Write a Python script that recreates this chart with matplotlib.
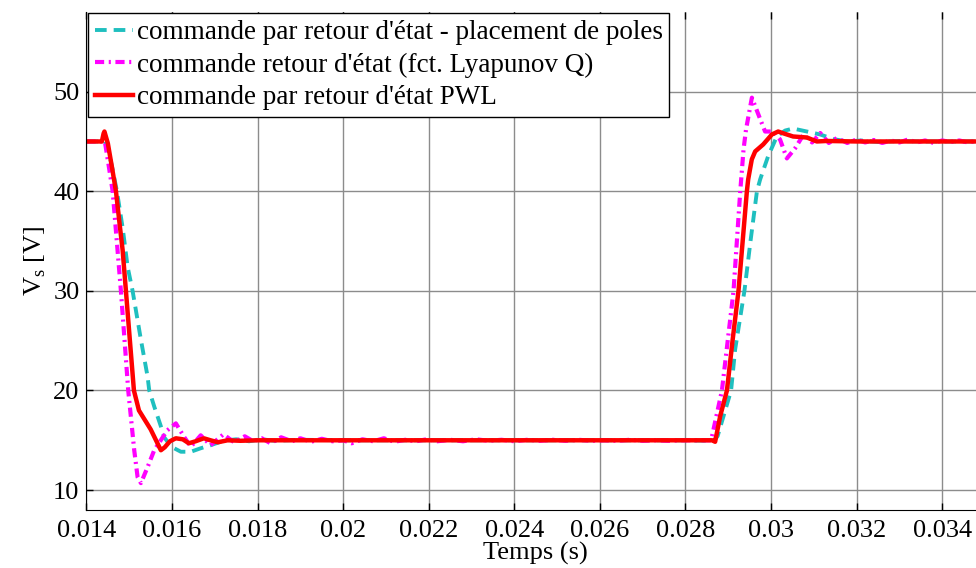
import matplotlib
matplotlib.use("Agg")
import matplotlib.pyplot as plt

plt.rcParams['font.family'] = ['Liberation Serif', 'DejaVu Serif']
plt.rcParams['mathtext.fontset'] = 'custom'
plt.rcParams['mathtext.rm'] = 'Liberation Serif'
plt.rcParams['font.size'] = 19

# --- commande par retour d'etat, placement de poles (cyan) ---
t_pp = [0.0140, 0.01443, 0.01452, 0.01462, 0.014712, 0.01485, 0.014962, 0.015078,
        0.015272, 0.015428, 0.015467, 0.015583, 0.015739, 0.015817, 0.015895,
        0.01605, 0.016206, 0.01644, 0.01667, 0.0169, 0.0171, 0.01729, 0.0175,
        0.0178, 0.0181, 0.0184, 0.0190, 0.0200, 0.0220, 0.0240, 0.0260, 0.0280,
        0.02865, 0.02875, 0.02886, 0.029066, 0.02916, 0.029378, 0.02952, 0.02967,
        0.029746, 0.02993, 0.030135, 0.03033, 0.030516, 0.030836, 0.03115,
        0.03145, 0.03177, 0.0321, 0.0325, 0.0330, 0.0335, 0.0340, 0.0350]
v_pp = [45.0, 45.0, 44.0, 42.0, 40.0, 36.2, 32.4, 30.0,
        25.1, 21.4, 20.0, 18.4, 16.4, 15.3, 14.85,
        14.2, 13.85, 13.85, 14.2, 14.5, 14.8, 15.0, 15.1,
        14.9, 15.1, 14.95, 15.05, 15.0, 15.0, 15.0, 15.0, 15.0,
        14.95, 15.4, 17.0, 20.0, 24.1, 30.0, 35.0, 40.0,
        41.2, 43.5, 45.5, 46.1, 46.3, 46.0, 45.7,
        45.25, 45.0, 45.1, 44.95, 45.05, 45.0, 45.0, 45.0]

# --- commande retour d'etat, fct. Lyapunov Q (magenta) ---
t_lq = [0.0140, 0.01443, 0.014533, 0.014612, 0.014805, 0.014976, 0.015116,
        0.015195, 0.015272, 0.015428, 0.015583, 0.01589, 0.016089, 0.01628,
        0.01644, 0.01667, 0.0169, 0.0172, 0.01745, 0.01770, 0.01790, 0.01810,
        0.01830, 0.01855, 0.01880, 0.01900, 0.01925, 0.01950, 0.01975, 0.02000,
        0.02020, 0.02045, 0.02070, 0.02095, 0.02120, 0.02145, 0.02170, 0.02195,
        0.02220, 0.02250, 0.02280, 0.02310, 0.02340, 0.02370, 0.02400, 0.02430,
        0.02460, 0.02490, 0.02520, 0.02550, 0.02580, 0.02610, 0.02640, 0.02670,
        0.02700, 0.02730, 0.02760, 0.02790, 0.02820, 0.02860, 0.028852, 0.029123,
        0.02928, 0.029357, 0.029415, 0.029552, 0.02975, 0.02986, 0.03005,
        0.03021, 0.03037, 0.03056, 0.03076, 0.03096, 0.03115, 0.03135, 0.03154,
        0.03178, 0.0320, 0.0322, 0.0324, 0.0326, 0.0328, 0.0330, 0.0332, 0.0334,
        0.0336, 0.0338, 0.0340, 0.0342, 0.0344, 0.0346, 0.0348, 0.0350]
v_lq = [45.0, 45.0, 42.2, 40.0, 30.0, 20.0, 14.0,
        11.3, 10.7, 12.3, 14.0, 16.0, 16.7, 15.35,
        14.35, 15.5, 14.5, 15.6, 14.8, 15.4, 14.9, 15.2,
        14.7, 15.3, 14.9, 15.2, 14.85, 15.15, 14.9, 15.0,
        14.7, 15.1, 14.9, 15.2, 14.85, 15.05, 14.9, 15.1,
        14.9, 15.05, 14.9, 15.1, 14.95, 15.05, 14.9, 15.05,
        14.95, 15.05, 14.95, 15.05, 14.95, 15.0, 14.95, 15.05,
        14.95, 15.0, 14.95, 15.0, 15.0, 15.0, 20.0, 30.0,
        40.0, 44.2, 46.2, 49.4, 47.2, 46.0, 46.0,
        45.2, 43.3, 44.3, 45.7, 44.9, 45.85, 44.85, 45.35,
        44.85, 45.2, 44.9, 45.15, 44.85, 45.1, 44.9, 45.2, 44.9,
        45.1, 44.85, 45.1, 44.95, 45.1, 44.9, 45.05, 45.0]

# --- commande par retour d'etat PWL (rouge) ---
t_pwl = [0.0140, 0.01436, 0.01440, 0.01442, 0.01450, 0.01460, 0.014689,
         0.01478, 0.014845, 0.014922, 0.01500, 0.015109, 0.015226, 0.01550,
         0.015739, 0.01583, 0.01595, 0.016089, 0.01625, 0.016393, 0.01655,
         0.016743, 0.01690, 0.01707, 0.0173, 0.0176, 0.0180, 0.0200, 0.0240,
         0.0280, 0.02862, 0.028693, 0.02881, 0.028969, 0.02910, 0.029239,
         0.029435, 0.029466, 0.02955, 0.029629, 0.029816, 0.030019, 0.030166,
         0.03030, 0.030516, 0.030836, 0.03107, 0.0313, 0.0320, 0.0330, 0.0350]
v_pwl = [45.0, 45.0, 45.8, 46.0, 44.8, 42.3, 40.0,
         36.5, 34.1, 30.0, 25.8, 20.0, 18.0, 16.1,
         14.0, 14.3, 14.9, 15.2, 15.1, 14.7, 14.9,
         15.2, 15.0, 14.8, 15.0, 14.95, 15.0, 15.0, 15.0,
         15.0, 15.0, 14.85, 17.4, 20.0, 25.0, 30.0,
         40.0, 41.2, 43.2, 44.0, 44.7, 45.7, 46.0,
         45.8, 45.5, 45.4, 45.0, 45.05, 45.0, 45.0, 45.0]

xticks = [0.014, 0.016, 0.018, 0.020, 0.022, 0.024, 0.026, 0.028, 0.030, 0.032, 0.034]
xtick_labels = ['0.014', '0.016', '0.018', '0.02', '0.022', '0.024', '0.026',
                '0.028', '0.03', '0.032', '0.034']
yticks = [10, 20, 30, 40, 50]

fig = plt.figure(figsize=(9.76, 5.68), dpi=100)
ax = fig.add_axes([0.0886, 0.1021, 0.9206, 0.8768])

ax.plot(t_pp, v_pp, color='#1fbfbf', lw=2.8, ls=(0, (3.0, 1.8)),
        label="commande par retour d'état - placement de poles")
ax.plot(t_lq, v_lq, color='#ff00ff', lw=3.0, ls=(0, (2.2, 1.1, 0.5, 1.1)),
        label="commande retour d'état (fct. Lyapunov Q)")
ax.plot(t_pwl, v_pwl, color='#ff0000', lw=3.2,
        label="commande par retour d'état PWL")

ax.set_xlim(0.014, 0.035)
ax.set_ylim(8, 58)
ax.set_xticks(xticks)
ax.set_xticklabels(xtick_labels)
ax.set_yticks(yticks)
ax.tick_params(direction='in', length=5, width=1, top=True)
ax.tick_params(axis='x', pad=7)
ax.tick_params(axis='y', pad=5)
ax.grid(True, color='#8c8c8c', lw=1.0)
ax.set_axisbelow(True)
ax.spines['top'].set_visible(False)
ax.spines['right'].set_visible(False)

ax.set_xlabel('Temps (s)', labelpad=0)
ax.set_ylabel(r'V$_\mathrm{s}$ [V]', labelpad=4)

leg = ax.legend(loc='upper left', borderaxespad=0.05, handlelength=1.4,
                handletextpad=0.15, borderpad=0.25, labelspacing=0.28,
                fancybox=False, framealpha=1, edgecolor='black',
                prop={'size': 19.5})
leg.get_frame().set_linewidth(1.0)

fig.savefig('out.png', dpi=100)
